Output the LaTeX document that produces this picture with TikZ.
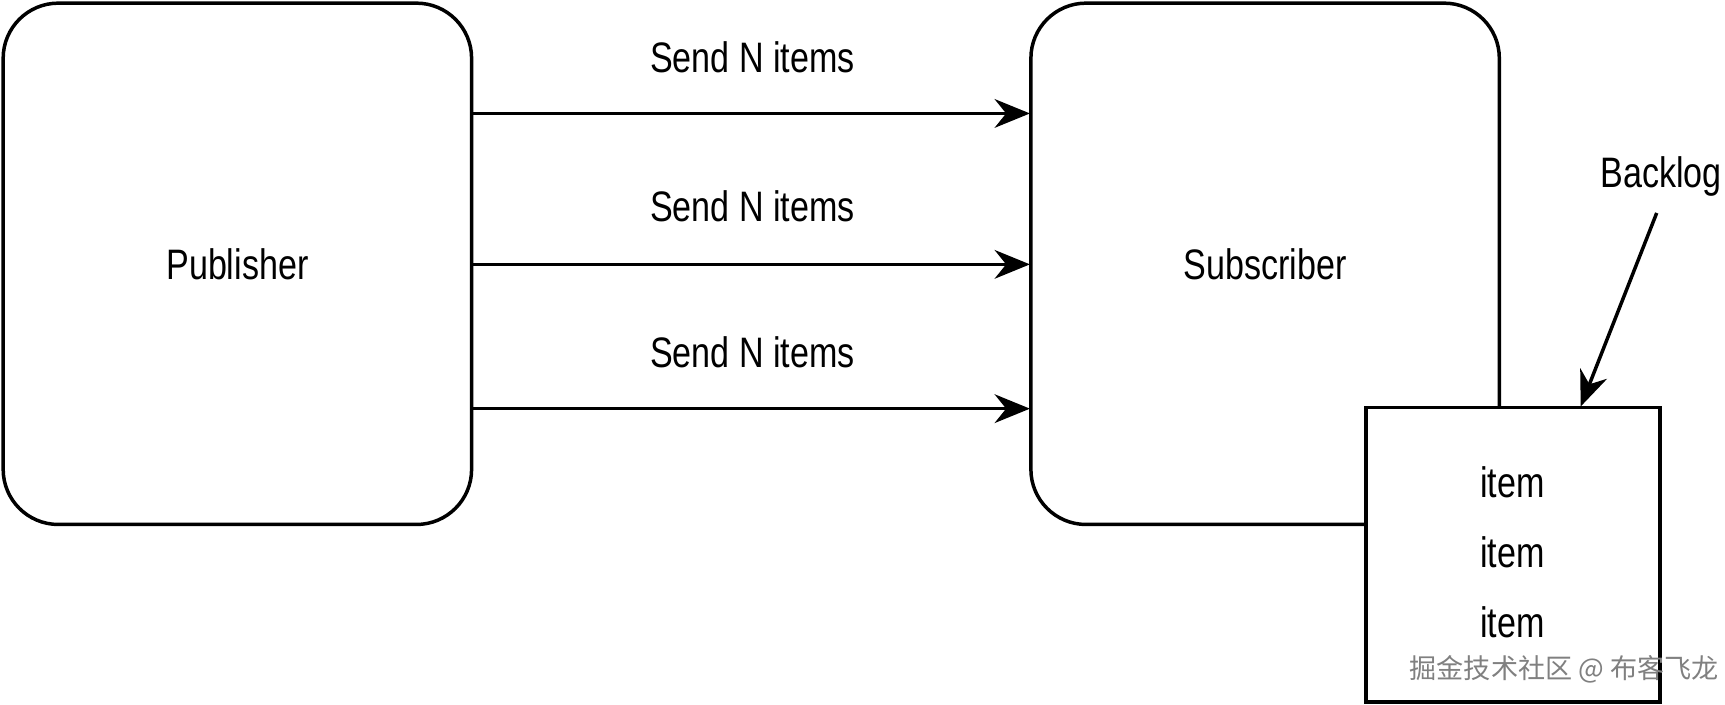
\documentclass[tikz,border=0pt]{standalone}
\usepackage{fontspec}
\usepackage{graphicx}
\setmainfont{Liberation Sans}
\newfontfamily\cjk{Noto Sans CJK SC}
\usetikzlibrary{arrows.meta}
\tikzset{>={Stealth[length=3.2mm,width=2.6mm]}}
\newcommand{\cnd}[1]{\scalebox{0.8}[1]{#1}}
\tikzstyle{party}=[rectangle,draw,line width=0.9pt,fill=white,minimum height=4.73cm,minimum width=4.25cm,rounded corners=0.5cm,font=\fontsize{11}{13}\selectfont]
\tikzstyle{lbl}=[font=\fontsize{11}{13}\selectfont]
\begin{document}
\begin{tikzpicture}[x=0.01cm,y=-0.01cm,line width=0.9pt]
	\useasboundingbox (0,0) rectangle (1566,640);

	\node[party] (pub) at (215.5,239.5) {\cnd{Publisher}};
	\node[party] (sub) at (1148.5,239.5) {\cnd{Subscriber}};

	\foreach \y/\t [count=\i] in {103/52,240/187,371/320} {
		\coordinate (s\i) at (428,\y);
		\coordinate (e\i) at (935,\y);
		\draw[->] (s\i) -- (e\i);
		\node[lbl] (send\i) at (683,\t) {\cnd{Send N items}};
	}

	\node[rectangle,draw,fill=white,minimum width=2.67cm,minimum height=2.67cm,line width=0.9pt] (backlog) at (1373.5,503.5) {};
	\node[lbl] (item1) at (1373,438) {\cnd{item}};
	\node[lbl] (item2) at (1373,501) {\cnd{item}};
	\node[lbl] (item3) at (1373,565) {\cnd{item}};

	\node[lbl] (bltext) at (1508,160) {\cnd{Backlog}};
	\coordinate (bltip) at (1435,369);
	\draw[->] (bltext.south) ++(-4,2) coordinate (blstart) -- (bltip);

	\node[text=gray,font=\cjk\fontsize{7}{9}\selectfont] (mark) at (1420,608) {掘金技术社区 @ 布客飞龙};
\end{tikzpicture}
\end{document}
